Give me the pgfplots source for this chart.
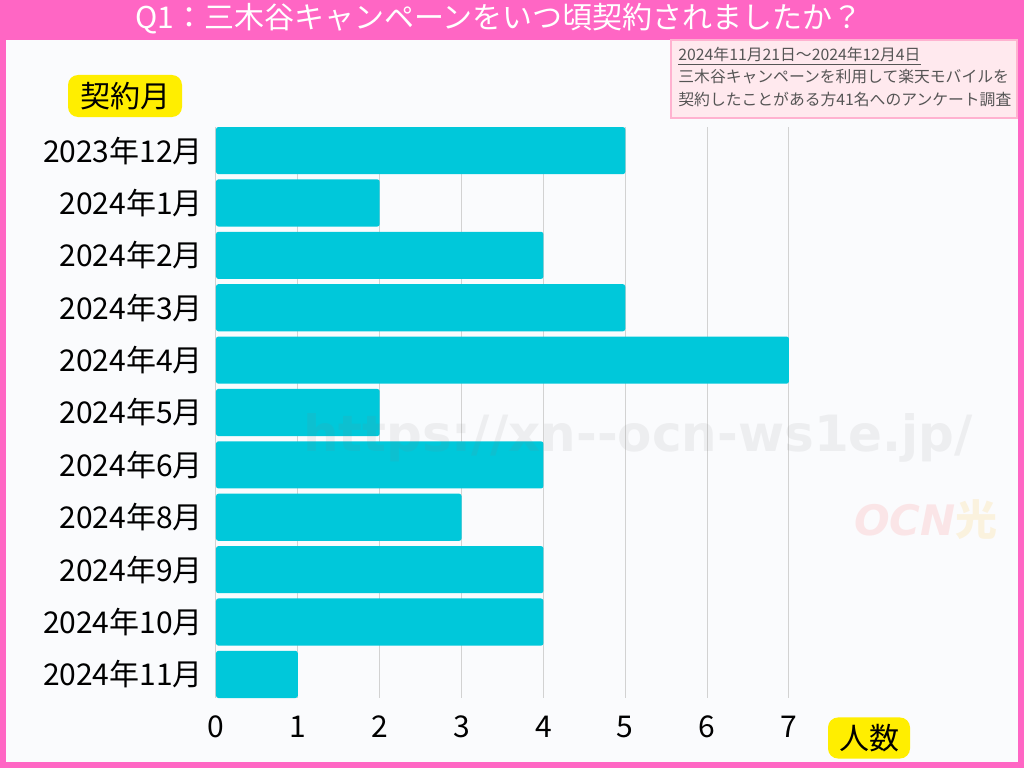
\documentclass[border=0pt]{standalone}
\usepackage{pgfplots}
\pgfplotsset{compat=1.18}
\usepackage{fontspec}
\setmainfont{Noto Sans CJK JP}
\newfontfamily\wmfont{DejaVu Sans}

\definecolor{pinkbg}{RGB}{255,102,196}
\definecolor{panel}{RGB}{250,251,253}
\definecolor{barc}{RGB}{0,200,218}
\definecolor{notebg}{RGB}{255,233,238}
\definecolor{noteline}{RGB}{255,178,208}
\definecolor{hl}{RGB}{255,238,0}
\definecolor{notetext}{RGB}{85,85,85}

\begin{document}
\begin{tikzpicture}[x=0.5pt,y=0.5pt]
% frame and panel
\fill[pinkbg] (0,0) rectangle (1024,768);
\fill[panel] (6,6) rectangle (1018,728);
\node[white, inner sep=0pt, font=\fontsize{15}{17}\selectfont] at (499,749)
  {Q1：三木谷キャンペーンをいつ頃契約されましたか？};

\begin{axis}[
  at={(108pt,35pt)}, anchor=south west,
  scale only axis, width=286.9pt, height=285.5pt,
  xmin=0, xmax=7.01, ymin=-0.45, ymax=10.45,
  y dir=reverse,
  axis line style={draw=none},
  tick style={draw=none},
  xmajorgrids, grid style={gray!35, line width=0.5pt},
  xtick={0,...,7}, ytick={0,...,10},
  yticklabels={2023年12月,2024年1月,2024年2月,2024年3月,2024年4月,2024年5月,
    2024年6月,2024年8月,2024年9月,2024年10月,2024年11月},
  tick label style={font=\fontsize{15}{18}\selectfont, text=black},
  /pgf/number format/assume math mode=true,
  yticklabel style={xshift=-3pt},
  xticklabel style={yshift=-5.5pt},
  clip=false,
]
\addplot[xbar, fill=barc, draw=none, bar width=0.9, rounded corners=1.2pt]
  coordinates {(5,0) (2,1) (4,2) (5,3) (7,4) (2,5) (4,6) (3,7) (4,8) (4,9) (1,10)};
\end{axis}

% watermark
\node[text=gray, opacity=0.1, font=\wmfont\bfseries\fontsize{25}{25}\selectfont]
  at (638,330) {https://xn--ocn-ws1e.jp/};
\node[opacity=0.12, font=\wmfont\bfseries\itshape\fontsize{21}{21}\selectfont, anchor=east]
  at (1005,248) {\textcolor{red!70}{OCN}\textcolor{orange!60!yellow}{\fontspec{Noto Sans CJK JP}\bfseries 光}};

% note box
\filldraw[fill=notebg, draw=noteline, line width=0.8pt] (671,650) rectangle (1017,728);
\begin{scope}[every node/.style={anchor=west, inner sep=0pt, text=notetext,
    font=\fontsize{7.9}{10}\selectfont}]
\node at (678,712) {\underline{2024年11月21日～2024年12月4日}};
\node at (678,691) {三木谷キャンペーンを利用して楽天モバイルを};
\node at (678,669) {契約したことがある方41名へのアンケート調査};
\end{scope}

% yellow labels
\node[fill=hl, rounded corners=5pt, minimum width=57pt, minimum height=21pt,
  font=\fontsize{15}{18}\selectfont] at (125,672) {契約月};
\node[fill=hl, rounded corners=5pt, minimum width=41pt, minimum height=20pt,
  font=\fontsize{15}{18}\selectfont] at (869,30) {人数};
\end{tikzpicture}
\end{document}
